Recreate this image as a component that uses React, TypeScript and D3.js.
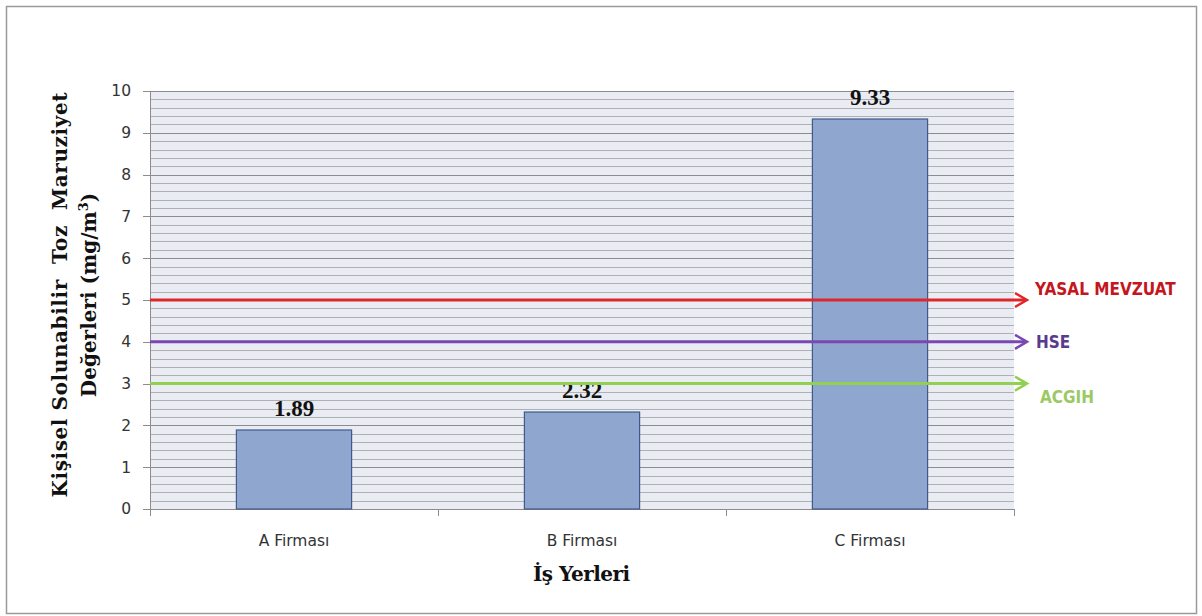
import React from "react";
import * as d3 from "d3";

const categories = ["A Firması", "B Firması", "C Firması"];
const values = [1.89, 2.32, 9.33];
const valueLabels = ["1.89", "2.32", "9.33"];
const yTicks = [0, 1, 2, 3, 4, 5, 6, 7, 8, 9, 10];
const limitNames = ["YASAL MEVZUAT", "HSE", "ACGIH"];
const limitValues = [5, 4, 3];
const limitColors = ["#e0262b", "#7a48b0", "#92d050"];
const limitTextColors = ["#c4161c", "#5a3a8e", "#9cc865"];

const W = 1202;
const H = 616;
const M = { left: 150, right: 1014, top: 91, bottom: 509 };

export default function App() {
  const x = d3.scaleBand<string>().domain(categories).range([M.left, M.right]).paddingInner(0.6).paddingOuter(0.3);
  const band = d3.scaleBand<string>().domain(categories).range([M.left, M.right]);
  const y = d3.scaleLinear().domain([0, 10]).range([M.bottom, M.top]);
  const minor = d3.range(0, 10.001, 0.2);
  const serif = "'Liberation Serif', 'DejaVu Serif', serif";
  const wideSerif = "'DejaVu Serif', 'Liberation Serif', serif";
  const sans = "'DejaVu Sans', 'Liberation Sans', sans-serif";
  const cond = "'DejaVu Sans Condensed', 'DejaVu Sans', sans-serif";
  const labelOffsets = [
    { dx: 1035, dy: -5 },
    { dx: 1036, dy: 6 },
    { dx: 1040, dy: 19.5 },
  ];
  return (
    <div style={{ position: "fixed", left: 0, top: 0 }}>
      <svg width={W} height={H} style={{ display: "block", background: "#fff" }}>
        <rect x={6.5} y={6.5} width={1190} height={607} fill="#fff" stroke="#9a9a9a" strokeWidth={1.5} />
        <rect x={M.left} y={M.top} width={M.right - M.left} height={M.bottom - M.top} fill="#e9ecf3" />
        {minor.map((v, i) => {
          const isMajor = Math.abs(v - Math.round(v)) < 1e-6;
          return (
            <line key={i} x1={M.left} x2={M.right} y1={Math.round(y(v)) + 0.5} y2={Math.round(y(v)) + 0.5}
              stroke={isMajor ? "#8c8c8c" : "#b0b0b0"} strokeWidth={1} />
          );
        })}
        <line x1={M.left + 0.5} x2={M.left + 0.5} y1={M.top} y2={M.bottom} stroke="#8c8c8c" />
        <line x1={M.left} x2={M.right} y1={M.bottom + 0.5} y2={M.bottom + 0.5} stroke="#8c8c8c" />
        {yTicks.map((t) => (
          <g key={t}>
            <line x1={M.left - 7} x2={M.left} y1={Math.round(y(t)) + 0.5} y2={Math.round(y(t)) + 0.5} stroke="#8c8c8c" />
            <text x={131} y={y(t)} dy="0.35em" textAnchor="end" fontFamily={sans} fontSize={15.5} fill="#333">{t}</text>
          </g>
        ))}
        {[0, 1, 2, 3].map((i) => {
          const xx = Math.round(M.left + i * band.bandwidth()) + 0.5;
          return <line key={i} x1={xx} x2={xx} y1={M.bottom} y2={M.bottom + 7} stroke="#8c8c8c" />;
        })}
        {categories.map((c, i) => (
          <g key={c}>
            <rect x={x(c)!} y={y(values[i])} width={x.bandwidth()} height={y(0) - y(values[i])}
              fill="#8fa6cf" stroke="#3e5a8a" strokeWidth={1.2} />
            <text x={x(c)! + x.bandwidth() / 2} y={y(values[i]) - 14} textAnchor="middle" fontFamily={serif}
              fontWeight="bold" fontSize={23} fill="#111">{valueLabels[i]}</text>
            <text x={band(c)! + band.bandwidth() / 2} y={546} textAnchor="middle" fontFamily={sans} fontSize={15.5}
              fill="#333">{c}</text>
          </g>
        ))}
        {limitNames.map((n, i) => {
          const yy = y(limitValues[i]);
          const xe = 1027;
          return (
            <g key={n}>
              <line x1={M.left} x2={xe - 2} y1={yy} y2={yy} stroke={limitColors[i]} strokeWidth={3} />
              <path d={`M${xe - 12},${yy - 7} L${xe},${yy} L${xe - 12},${yy + 7}`} fill="none"
                stroke={limitColors[i]} strokeWidth={2.5} />
              <text x={labelOffsets[i].dx} y={yy + labelOffsets[i].dy} fontFamily={cond} fontWeight="bold"
                fontSize={17} fill={limitTextColors[i]}>{n}</text>
            </g>
          );
        })}
        <text x={581.5} y={581} textAnchor="middle" fontFamily={wideSerif} fontWeight="bold" fontSize={20}
          textLength={97} lengthAdjust="spacing" fill="#111">İş Yerleri</text>
        <g transform={`translate(67, 295) rotate(-90)`}>
          <text x={0} y={0} textAnchor="middle" fontFamily={wideSerif} fontWeight="bold" fontSize={20} fill="#111"
            xmlSpace="preserve" textLength={405} lengthAdjust="spacing">Kişisel Solunabilir  Toz  Maruziyet</text>
          <text x={0} y={29} textAnchor="middle" fontFamily={wideSerif} fontWeight="bold" fontSize={20} fill="#111">
            Değerleri (mg/m<tspan dy={-8} fontSize={13}>3</tspan><tspan dy={8}>)</tspan>
          </text>
        </g>
      </svg>
    </div>
  );
}
